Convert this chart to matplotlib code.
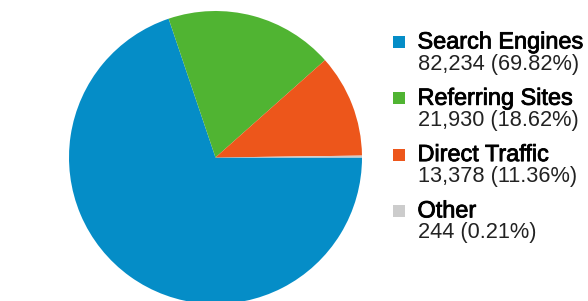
import matplotlib.pyplot as plt
import matplotlib.patches as mpatches
import matplotlib.patheffects as pe

plt.rcParams['font.family'] = ['Liberation Sans', 'DejaVu Sans']

# ─── data ───
sources = ["Search Engines", "Referring Sites", "Direct Traffic", "Other"]
visits = [82234, 21930, 13378, 244]
percents = [69.82, 18.62, 11.36, 0.21]
colors = ['#058dc7', '#50b432', '#ed561b', '#cccccc']

W, H = 588, 301
fig = plt.figure(figsize=(W / 100, H / 100), dpi=100)

# pie axis: square in pixels, centred at (215.5, 157.5) from top-left
cx, cy, r = 215.5, 157.5, 146.5
ax = fig.add_axes([(cx - r) / W, (H - cy - r) / H, 2 * r / W, 2 * r / H])
ax.pie(visits, colors=colors, startangle=0, counterclock=False,
       radius=1, wedgeprops=dict(linewidth=0))
ax.set_xlim(-1, 1)
ax.set_ylim(-1, 1)
ax.set_aspect('equal')
ax.axis('off')

# legend drawn by hand so it sits like the original
heavy = [pe.withStroke(linewidth=0.6, foreground='#000000')]
for i, (name, n, pct, col) in enumerate(zip(sources, visits, percents, colors)):
    top = 42 + i * 56.3  # pixel y (from top) of the title line centre
    sq = mpatches.Rectangle((393 / W, 1 - (top + 6) / H), 12 / W, 12 / H,
                            transform=fig.transFigure, color=col, lw=0)
    fig.patches.append(sq)
    fig.text(417.5 / W, 1 - top / H, name, fontsize=16.9, color='#000000',
             ha='left', va='center', path_effects=heavy)
    fig.text(417.5 / W, 1 - (top + 22) / H, f"{n:,} ({pct:.2f}%)",
             fontsize=15.7, color='#222222', ha='left', va='center')

fig.savefig('out.png', dpi=100, facecolor='white')
